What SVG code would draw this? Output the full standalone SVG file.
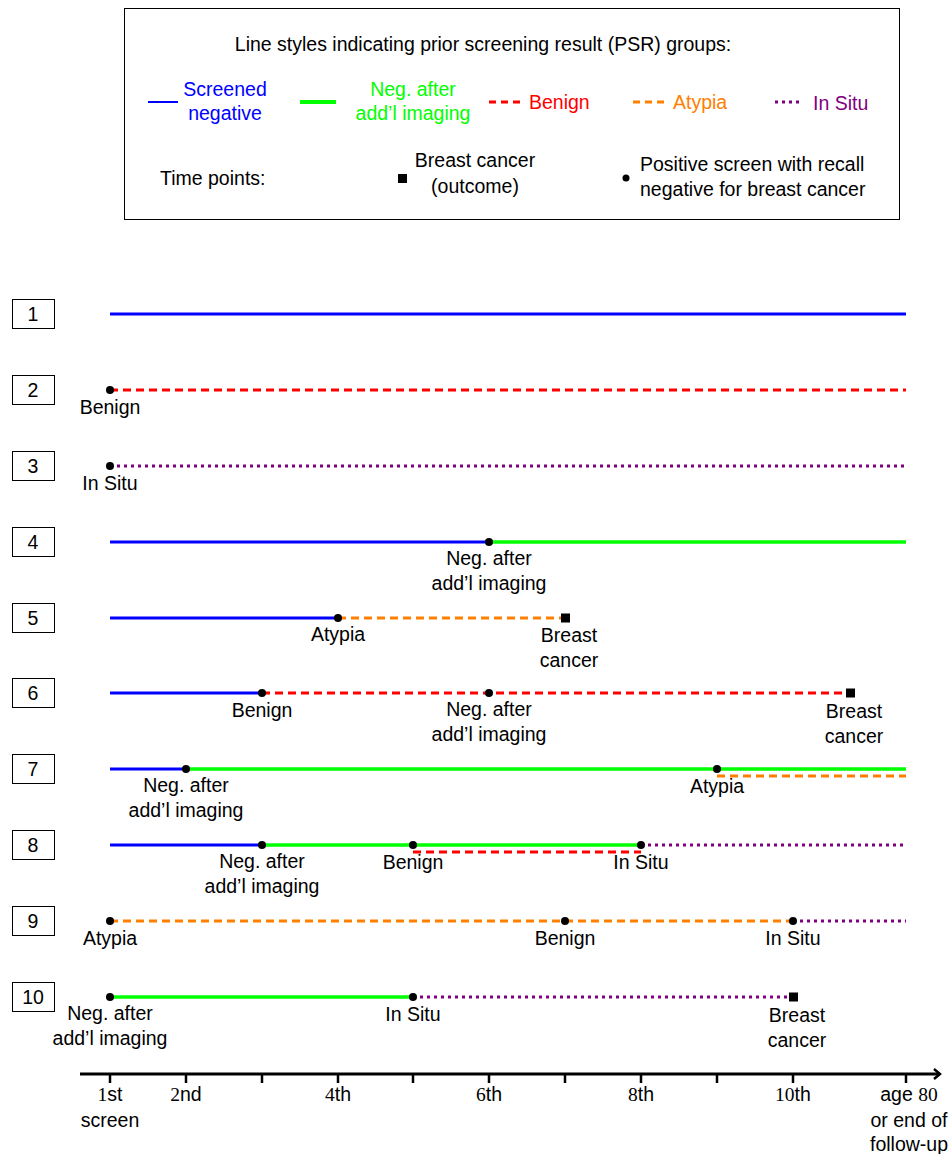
<svg xmlns="http://www.w3.org/2000/svg" width="951" height="1154" viewBox="0 0 951 1154">
<defs>
<style>
text{font-family:"Liberation Sans",Arial,sans-serif;font-size:19.5px;fill:#000}
.c{text-anchor:middle}
.num{font-family:"Liberation Serif","Times New Roman",serif}
.box{fill:#fff;stroke:#000;stroke-width:1}
.blue{stroke:#0000ff;stroke-width:3;fill:none}
.green{stroke:#00ff00;stroke-width:3.5;fill:none}
.red{stroke:#ff0000;stroke-width:3;stroke-dasharray:8 5;fill:none}
.orange{stroke:#ff8000;stroke-width:3;stroke-dasharray:8 5;fill:none}
.purple{stroke:#800080;stroke-width:3;stroke-dasharray:3 4;fill:none}
.axis{stroke:#000;stroke-width:3;fill:none}
.tick{stroke:#000;stroke-width:2.5}
</style>
<marker id="arr" markerWidth="10" markerHeight="12" refX="7" refY="6" orient="auto" markerUnits="userSpaceOnUse">
<path d="M1,1 L7,6 L1,11" fill="none" stroke="#000" stroke-width="2.5"/>
</marker>
</defs>
<rect width="951" height="1154" fill="#fff"/>

<g id="legend">
<rect x="124.5" y="8.5" width="775" height="211" fill="#fff" stroke="#000" stroke-width="1"/>
<text x="483" y="51" class="c">Line styles indicating prior screening result (PSR) groups:</text>
<line x1="148" y1="102" x2="178" y2="102" stroke="#0000ff" stroke-width="2"/>
<text x="225" y="96" class="c" style="fill:#0000ff">Screened</text>
<text x="225" y="120" class="c" style="fill:#0000ff">negative</text>
<line x1="300" y1="102" x2="336" y2="102" stroke="#00ff00" stroke-width="4"/>
<text x="413" y="96" class="c" style="fill:#00ff00">Neg. after</text>
<text x="413" y="120" class="c" style="fill:#00ff00">add’l imaging</text>
<line x1="489" y1="102" x2="522" y2="102" stroke="#ff0000" stroke-width="3" stroke-dasharray="7 5"/>
<text x="529" y="109" style="fill:#ff0000">Benign</text>
<line x1="633" y1="102" x2="666" y2="102" stroke="#ff8000" stroke-width="3" stroke-dasharray="7 5"/>
<text x="673" y="109" style="fill:#ff8000">Atypia</text>
<line x1="775" y1="102" x2="803" y2="102" stroke="#800080" stroke-width="3" stroke-dasharray="3 4"/>
<text x="813" y="110" style="fill:#800080">In Situ</text>
<text x="160" y="185">Time points:</text>
<rect x="398" y="174" width="9" height="9" fill="#000"/>
<text x="475" y="167" class="c">Breast cancer</text>
<text x="475" y="193" class="c">(outcome)</text>
<circle cx="626" cy="178" r="3.5" fill="#000"/>
<text x="640" y="171">Positive screen with recall</text>
<text x="640" y="196">negative for breast cancer</text>
</g>

<g id="row-labels">
<g id="r1"><rect x="12.5" y="299.5" width="42" height="29" class="box"/><text x="33" y="321" class="c">1</text></g>
<g id="r2"><rect x="12.5" y="375.5" width="42" height="29" class="box"/><text x="33" y="397" class="c">2</text></g>
<g id="r3"><rect x="12.5" y="451.5" width="42" height="29" class="box"/><text x="33" y="473" class="c">3</text></g>
<g id="r4"><rect x="12.5" y="527.5" width="42" height="29" class="box"/><text x="33" y="549" class="c">4</text></g>
<g id="r5"><rect x="12.5" y="603.5" width="42" height="29" class="box"/><text x="33" y="625" class="c">5</text></g>
<g id="r6"><rect x="12.5" y="678.5" width="42" height="29" class="box"/><text x="33" y="700" class="c">6</text></g>
<g id="r7"><rect x="12.5" y="754.5" width="42" height="29" class="box"/><text x="33" y="776" class="c">7</text></g>
<g id="r8"><rect x="12.5" y="830.5" width="42" height="29" class="box"/><text x="33" y="852" class="c">8</text></g>
<g id="r9"><rect x="12.5" y="906.5" width="42" height="29" class="box"/><text x="33" y="928" class="c">9</text></g>
<g id="r10"><rect x="12.5" y="982.5" width="42" height="29" class="box"/><text x="33" y="1004" class="c">10</text></g>
</g>

<g id="connectors">
<line x1="110" y1="314" x2="906" y2="314" class="blue"/>
<line x1="110" y1="390" x2="906" y2="390" class="red"/>
<line x1="110" y1="466" x2="906" y2="466" class="purple"/>
<line x1="110" y1="542" x2="489" y2="542" class="blue"/>
<line x1="489" y1="542" x2="906" y2="542" class="green"/>
<line x1="110" y1="618" x2="338" y2="618" class="blue"/>
<line x1="338" y1="618" x2="565" y2="618" class="orange"/>
<line x1="110" y1="693" x2="262" y2="693" class="blue"/>
<line x1="262" y1="693" x2="850" y2="693" class="red"/>
<line x1="110" y1="769" x2="186" y2="769" class="blue"/>
<line x1="186" y1="769" x2="906" y2="769" class="green"/>
<line x1="717" y1="776" x2="906" y2="776" class="orange"/>
<line x1="110" y1="845" x2="262" y2="845" class="blue"/>
<line x1="262" y1="845" x2="641" y2="845" class="green"/>
<line x1="413" y1="852" x2="641" y2="852" class="red"/>
<line x1="641" y1="845" x2="906" y2="845" class="purple"/>
<line x1="110" y1="921" x2="793" y2="921" class="orange"/>
<line x1="793" y1="921" x2="906" y2="921" class="purple"/>
<line x1="110" y1="997" x2="413" y2="997" class="green"/>
<line x1="413" y1="997" x2="793" y2="997" class="purple"/>
</g>

<g id="events" fill="#000">
<circle cx="110" cy="390" r="4"/>
<circle cx="110" cy="466" r="4"/>
<circle cx="489" cy="542" r="4"/>
<circle cx="338" cy="618" r="4"/>
<rect x="561" y="613.5" width="9" height="9"/>
<circle cx="262" cy="693" r="4"/>
<circle cx="489" cy="693" r="4"/>
<rect x="846" y="688.5" width="9" height="9"/>
<circle cx="186" cy="769" r="4"/>
<circle cx="717" cy="769" r="4"/>
<circle cx="262" cy="845" r="4"/>
<circle cx="413" cy="845" r="4"/>
<circle cx="641" cy="845" r="4"/>
<circle cx="110" cy="921" r="4"/>
<circle cx="565" cy="921" r="4"/>
<circle cx="793" cy="921" r="4"/>
<circle cx="110" cy="997" r="4"/>
<circle cx="413" cy="997" r="4"/>
<rect x="789" y="992.5" width="9" height="9"/>
</g>

<g id="event-labels">
<text x="110" y="414" class="c">Benign</text>
<text x="110" y="490" class="c">In Situ</text>
<text x="489" y="565" class="c">Neg. after</text>
<text x="489" y="590" class="c">add’l imaging</text>
<text x="338" y="641" class="c">Atypia</text>
<text x="569" y="642" class="c">Breast</text>
<text x="569" y="667" class="c">cancer</text>
<text x="262" y="717" class="c">Benign</text>
<text x="489" y="716" class="c">Neg. after</text>
<text x="489" y="741" class="c">add’l imaging</text>
<text x="854" y="718" class="c">Breast</text>
<text x="854" y="743" class="c">cancer</text>
<text x="186" y="792" class="c">Neg. after</text>
<text x="186" y="817" class="c">add’l imaging</text>
<text x="717" y="793" class="c">Atypia</text>
<text x="262" y="868" class="c">Neg. after</text>
<text x="262" y="893" class="c">add’l imaging</text>
<text x="413" y="869" class="c">Benign</text>
<text x="641" y="869" class="c">In Situ</text>
<text x="110" y="945" class="c">Atypia</text>
<text x="565" y="945" class="c">Benign</text>
<text x="793" y="945" class="c">In Situ</text>
<text x="110" y="1020" class="c">Neg. after</text>
<text x="110" y="1045" class="c">add’l imaging</text>
<text x="413" y="1021" class="c">In Situ</text>
<text x="797" y="1022" class="c">Breast</text>
<text x="797" y="1047" class="c">cancer</text>
</g>

<g id="axis">
<line x1="80" y1="1074" x2="940" y2="1074" class="axis" marker-end="url(#arr)"/>
<line x1="110" y1="1074" x2="110" y2="1083" class="tick"/>
<line x1="186" y1="1074" x2="186" y2="1083" class="tick"/>
<line x1="262" y1="1074" x2="262" y2="1083" class="tick"/>
<line x1="338" y1="1074" x2="338" y2="1083" class="tick"/>
<line x1="413" y1="1074" x2="413" y2="1083" class="tick"/>
<line x1="489" y1="1074" x2="489" y2="1083" class="tick"/>
<line x1="565" y1="1074" x2="565" y2="1083" class="tick"/>
<line x1="641" y1="1074" x2="641" y2="1083" class="tick"/>
<line x1="717" y1="1074" x2="717" y2="1083" class="tick"/>
<line x1="793" y1="1074" x2="793" y2="1083" class="tick"/>
<line x1="906" y1="1074" x2="906" y2="1083" class="tick"/>
<text x="110" y="1101" class="c"><tspan class="num">1</tspan>st</text>
<text x="110" y="1127" class="c">screen</text>
<text x="186" y="1101" class="c"><tspan class="num">2</tspan>nd</text>
<text x="338" y="1101" class="c"><tspan class="num">4</tspan>th</text>
<text x="489" y="1101" class="c"><tspan class="num">6</tspan>th</text>
<text x="641" y="1101" class="c"><tspan class="num">8</tspan>th</text>
<text x="793" y="1101" class="c"><tspan class="num">10</tspan>th</text>
<text x="909" y="1101" class="c">age <tspan class="num">80</tspan></text>
<text x="909" y="1127" class="c">or end of</text>
<text x="909" y="1151" class="c">follow-up</text>
</g>
</svg>
